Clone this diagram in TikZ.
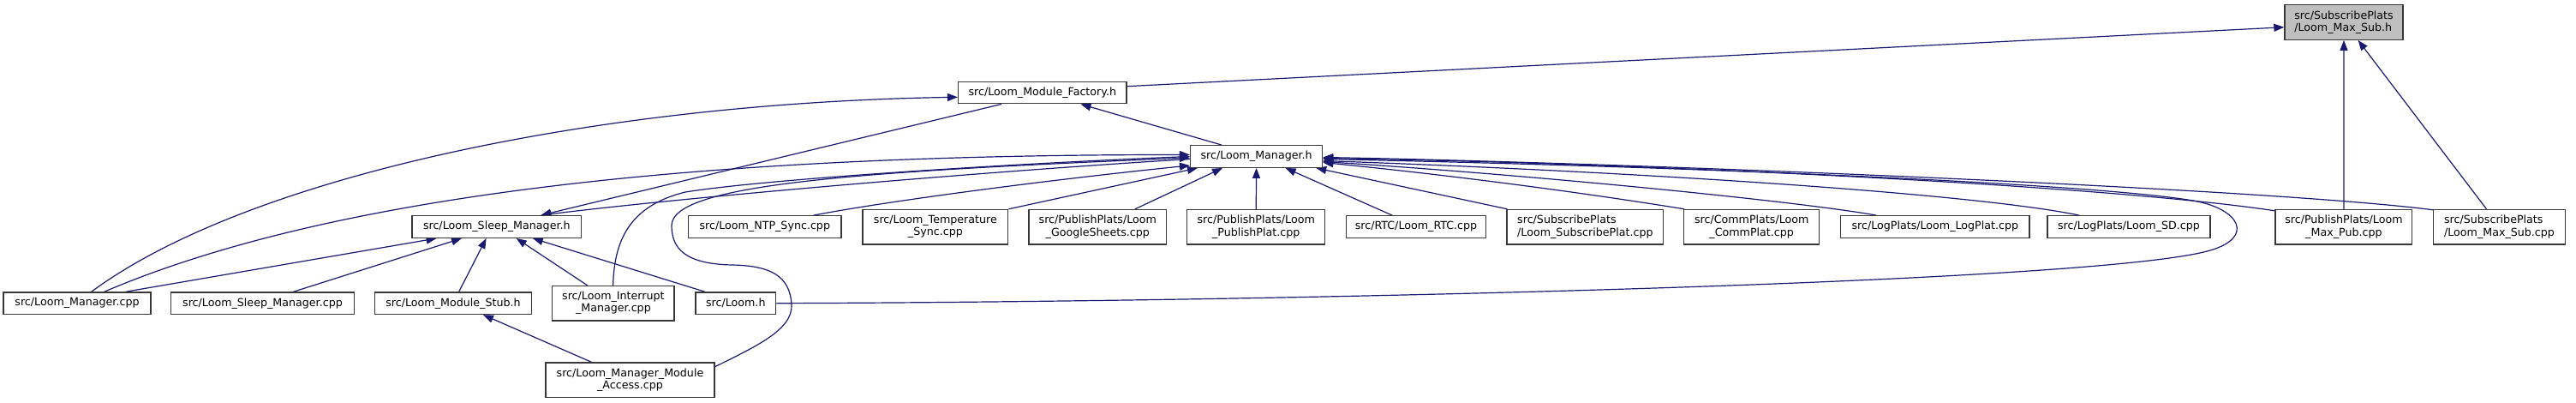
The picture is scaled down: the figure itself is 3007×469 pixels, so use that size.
\documentclass[tikz,border=0pt]{standalone}
\usepackage{fontspec}
\setmainfont{DejaVu Sans}
\usetikzlibrary{arrows.meta,calc,backgrounds}
\definecolor{edgeblue}{RGB}{25,25,112}
\definecolor{boxgray}{RGB}{191,191,191}
\begin{document}
\begin{tikzpicture}[x=1pt,y=-1pt,
  box/.style={draw=black!78, line width=1.3pt, fill=white, inner sep=0pt,
    font=\fontsize{12.66pt}{14.3pt}\selectfont, align=center},
  one/.style={minimum height=25.6pt},
  two/.style={minimum height=40.5pt},
  edge/.style={draw=edgeblue, line width=1.2pt, {Triangle[length=12pt,width=9pt]}-}]
\useasboundingbox (0,0) rectangle (3007,469);

\node[box,two,align=left,fill=boxgray,minimum width=138pt] (maxsubh) at (2736,26) {src/SubscribePlats\\/Loom\_Max\_Sub.h};
\node[box,one,minimum width=196.4pt] (factory) at (1216.8,108) {src/Loom\_Module\_Factory.h};
\node[box,one,minimum width=154pt] (managerh) at (1466.6,182.5) {src/Loom\_Manager.h};
\node[box,one,minimum width=197.7pt] (sleeph) at (579.8,264.5) {src/Loom\_Sleep\_Manager.h};
\node[box,one,minimum width=178.4pt] (ntp) at (892.8,264.5) {src/Loom\_NTP\_Sync.cpp};
\node[box,two,minimum width=169.7pt] (temp) at (1091.9,264.7) {src/Loom\_Temperature\\\_Sync.cpp};
\node[box,two,minimum width=160.7pt] (gsheets) at (1281.3,264.7) {src/PublishPlats/Loom\\\_GoogleSheets.cpp};
\node[box,two,minimum width=160.8pt] (pubplat) at (1466.2,264.7) {src/PublishPlats/Loom\\\_PublishPlat.cpp};
\node[box,one,minimum width=162.6pt] (rtc) at (1653,264.5) {src/RTC/Loom\_RTC.cpp};
\node[box,two,align=left,minimum width=182.7pt] (subplat) at (1850.4,264.7) {src/SubscribePlats\\/Loom\_SubscribePlat.cpp};
\node[box,two,minimum width=158pt] (commplat) at (2044.7,264.7) {src/CommPlats/Loom\\\_CommPlat.cpp};
\node[box,one,minimum width=220.1pt] (logplat) at (2258.8,264.5) {src/LogPlats/Loom\_LogPlat.cpp};
\node[box,one,minimum width=190pt] (sd) at (2485,264.5) {src/LogPlats/Loom\_SD.cpp};
\node[box,two,minimum width=159.7pt] (maxpub) at (2735.9,264.7) {src/PublishPlats/Loom\\\_Max\_Pub.cpp};
\node[box,two,align=left,minimum width=153.7pt] (maxsubcpp) at (2917.5,264.7) {src/SubscribePlats\\/Loom\_Max\_Sub.cpp};
\node[box,one,minimum width=172pt] (managercpp) at (90,353.7) {src/Loom\_Manager.cpp};
\node[box,one,minimum width=213.7pt] (sleepcpp) at (306.5,353.7) {src/Loom\_Sleep\_Manager.cpp};
\node[box,one,minimum width=183pt] (stub) at (529,353.7) {src/Loom\_Module\_Stub.h};
\node[box,two,minimum width=142.2pt] (interrupt) at (715.9,353.7) {src/Loom\_Interrupt\\\_Manager.cpp};
\node[box,one,minimum width=93.7pt] (loomh) at (858.8,353.7) {src/Loom.h};
\node[box,two,minimum width=197pt] (access) at (735.5,443.3) {src/Loom\_Manager\_Module\\\_Access.cpp};

\begin{scope}[on background layer]
% into Loom_Max_Sub.h
\draw[edge] ($(maxsubh.west)+(0,5.7)$) -- ($(factory.east)+(0,-7.3)$);
\draw[edge] (maxsubh.south) -- (maxpub.north);
\draw[edge] ($(maxsubh.south)+(16.6,0)$) -- ($(maxsubcpp.north)+(-15,0)$);
% into Loom_Module_Factory.h
\draw[edge] ($(factory.west)+(0,5.3)$) .. controls (700,120) and (290,205) .. ($(managercpp.north)+(16.7,0)$);
\draw[edge] ($(factory.south)+(44.7,0)$) -- ($(managerh.north)+(-40.6,0)$);
% into Loom_Sleep_Manager.h from above
\draw[edge] ($(sleeph.north)+(51.5,0)$) -- ($(factory.south)+(-47.8,0)$);
\draw[edge] ($(sleeph.north)+(51.5,0)$) .. controls (800,230) and (1150,200) .. ($(managerh.west)+(0,3)$);
% into Loom_Manager.h, left side
\draw[edge] ($(managerh.west)+(0,-2)$) .. controls (800,180) and (380,230) .. ($(managercpp.north)+(31.7,0)$);
\draw[edge] (managerh.west) .. controls (1200,190) and (900,208) .. (800,224)
  .. controls (735,240) and (717,280) .. ($(interrupt.north)+(-0.3,0)$);
\draw[edge] ($(managerh.west)+(0,1.5)$) .. controls (1000,200) and (784,215) .. (784,263)
  .. controls (784,290) and (800,308) .. (855,309)
  .. controls (900,310) and (922,322) .. (924,355)
  .. controls (926,385) and (880,405) .. ($(access.east)+(0,-15.6)$);
\draw[edge] ($(managerh.west)+(0,10.5)$) .. controls (1250,207) and (1050,232) .. ($(ntp.north)+(57,0)$);
\draw[edge] ($(managerh.south west)+(9,0)$) -- (temp.north east);
\draw[edge] ($(managerh.south)+(-39.6,0)$) -- ($(gsheets.north)+(43.7,0)$);
\draw[edge] (managerh.south) -- (pubplat.north);
% into Loom_Manager.h, right side
\draw[edge] ($(managerh.south)+(34,0)$) -- ($(rtc.north)+(-28,0)$);
\draw[edge] ($(managerh.south east)+(-8,0)$) -- ($(subplat.north west)+(1,0)$);
\draw[edge] ($(managerh.east)+(0,7)$) .. controls (1700,205) and (1850,225) .. ($(commplat.north west)+(1,0)$);
\draw[edge] ($(managerh.east)+(0,6)$) .. controls (1800,205) and (2100,235) .. ($(logplat.north)+(-68.8,0)$);
\draw[edge] ($(managerh.east)+(0,5)$) .. controls (1900,200) and (2300,225) .. ($(sd.north)+(-58,0)$);
\draw[edge] ($(managerh.east)+(0,2)$) .. controls (1900,190) and (2450,215) .. ($(maxpub.north west)+(0,2)$);
\draw[edge] ($(managerh.east)+(0,1)$) .. controls (1900,190) and (2650,220) .. ($(maxsubcpp.north west)+(0,1)$);
\draw[edge] ($(managerh.east)+(0,3)$) .. controls (2000,195) and (2450,215) .. (2560,234)
  .. controls (2615,243.5) and (2632,276.8) .. (2580,292)
  .. controls (2450,330) and (1500,352) .. (loomh.east);
% into Loom_Sleep_Manager.h from below
\draw[edge] ($(sleeph.south west)+(29.3,0)$) -- ($(managercpp.north)+(56.7,0)$);
\draw[edge] ($(sleeph.south)+(-40.8,0)$) -- ($(sleepcpp.north)+(36,0)$);
\draw[edge] ($(sleeph.south)+(-12.2,0)$) -- ($(stub.north)+(6.7,0)$);
\draw[edge] ($(sleeph.south)+(22.9,0)$) -- ($(interrupt.north)+(-30.3,0)$);
\draw[edge] ($(sleeph.south)+(42,0)$) -- ($(loomh.north)+(-36,0)$);
% into Loom_Module_Stub.h
\draw[edge] ($(stub.south)+(35,0)$) -- ($(access.north)+(-44.8,0)$);
\end{scope}
\end{tikzpicture}
\end{document}
